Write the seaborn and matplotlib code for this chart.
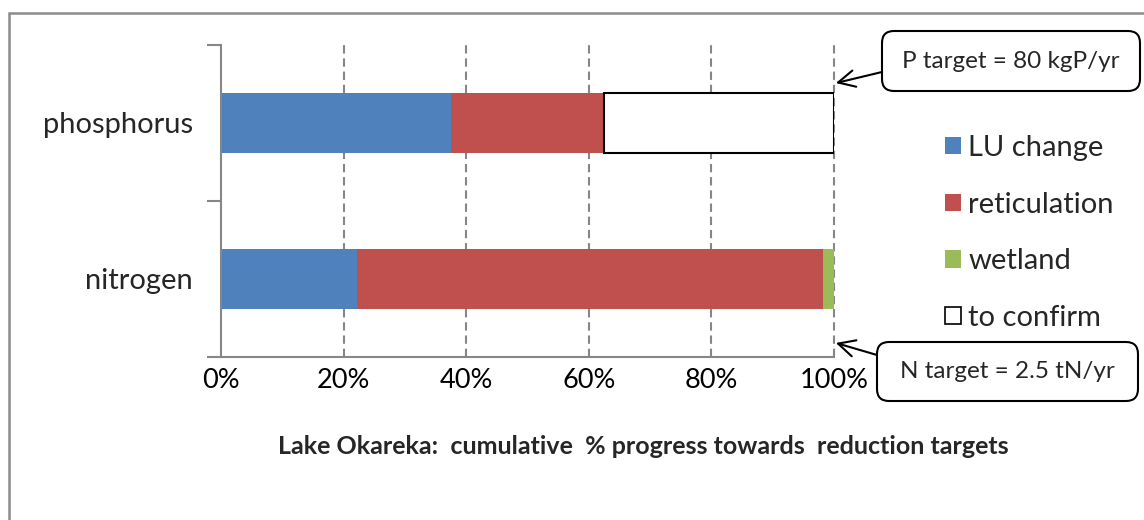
import numpy as np
import pandas as pd
import matplotlib
matplotlib.use("Agg")
import matplotlib.pyplot as plt
import matplotlib.patches as mpatches
import matplotlib.transforms as mtransforms
import seaborn as sns

# ---- data ----
categories = ["phosphorus", "nitrogen"]
lu_change = [37.5, 22.2]
reticulation = [25.0, 76.0]
wetland = [0.0, 1.8]
to_confirm = [37.5, 0.0]
series_names = ["LU change", "reticulation", "wetland", "to confirm"]
x_ticks = [0, 20, 40, 60, 80, 100]
x_ticklabels = ["0%", "20%", "40%", "60%", "80%", "100%"]
title = "Lake Okareka:  cumulative  % progress towards  reduction targets"
p_note = "P target = 80 kgP/yr"
n_note = "N target = 2.5 tN/yr"

colors = {"LU change": "#4F81BD", "reticulation": "#C0504D", "wetland": "#9BBB59"}
grey = "#868686"

sns.set_style("white")
plt.rcParams["font.family"] = ["Lato", "DejaVu Sans"]
plt.rcParams["lines.scale_dashes"] = False

W, H = 1144, 520
fig = plt.figure(figsize=(W / 100, H / 100), dpi=100)
ax = fig.add_axes([221 / W, 1 - 357 / H, (834 - 221) / W, (357 - 45) / H])

df = pd.DataFrame({"category": categories, "LU change": lu_change,
                   "reticulation": reticulation, "wetland": wetland,
                   "to confirm": to_confirm})
cum = df[["LU change", "reticulation", "wetland"]].cumsum(axis=1)

# grid lines (behind bars)
for v in x_ticks[1:]:
    ax.axvline(v, color=grey, lw=1.5, ls=(0, (6, 3.5)), zorder=0.5, clip_on=False)

# stacked bars by overlaying cumulative totals, largest first
for name in ["wetland", "reticulation", "LU change"]:
    sns.barplot(x=cum[name], y=df["category"], orient="h", color=colors[name],
                width=0.39, linewidth=0, saturation=1, ax=ax, zorder=2)

# "to confirm" outlined segment
pos = np.arange(len(categories))
tc = np.array(to_confirm)
start = cum["wetland"].values
mask = tc > 0
ax.barh(pos[mask], tc[mask], left=start[mask], height=0.39, color="white",
        edgecolor="black", linewidth=1.5, zorder=3)

ax.set_xlim(0, 100)
ax.set_ylim(1.5, -0.5)
ax.set_xlabel("")
ax.set_ylabel("")

ax.set_xticks(x_ticks)
ax.set_xticklabels(x_ticklabels)
ax.tick_params(axis="x", which="major", direction="out", length=6, width=1.5,
               color=grey, labelsize=19.5, pad=2, labelcolor="black")

ax.set_yticks([-0.5, 0.5, 1.5])
ax.set_yticklabels([])
ax.set_yticks([0, 1], minor=True)
ax.set_yticklabels(categories, minor=True)
ax.tick_params(axis="y", which="major", direction="out", length=10, width=1.5,
               color=grey, left=True)
ax.tick_params(axis="y", which="minor", length=0, labelsize=21, pad=20)

for s in ["top", "right"]:
    ax.spines[s].set_visible(False)
for s in ["left", "bottom"]:
    ax.spines[s].set_color(grey)
    ax.spines[s].set_linewidth(1.5)
    ax.spines[s].set_zorder(4)

# title below
fig.text(643 / W, 1 - 446 / H, title, ha="center", va="center",
         fontsize=18, fontweight="bold")

# legend
handles = [mpatches.Patch(facecolor=colors[n], edgecolor="none") for n in series_names[:3]]
handles.append(mpatches.Patch(facecolor="white", edgecolor="black", linewidth=1.2))
fig.legend(handles, series_names, loc="upper left",
           bbox_to_anchor=(945 / W, 1 - 135 / H), frameon=False, fontsize=21,
           handlelength=0.55, handleheight=0.55, handletextpad=0.25,
           labelspacing=1.05, borderpad=0, borderaxespad=0)

# callout boxes
ident = mtransforms.IdentityTransform()
for (x0, y_top, x1, y_bot), txt, tailx, taily, tip in [
        ((882, 31, 1140, 91), p_note, 882, 72, (100.3, -0.256)),
        ((877, 342, 1138, 401), n_note, 877, 355, (100.3, 1.41))]:
    box = mpatches.FancyBboxPatch((x0, H - y_bot), x1 - x0, y_bot - y_top,
                                  boxstyle="round,pad=0,rounding_size=12",
                                  transform=ident, facecolor="white",
                                  edgecolor="black", linewidth=1.5)
    fig.add_artist(box)
    fig.text((x0 + x1) / 2 / W, 1 - (y_top + y_bot) / 2 / H, txt,
             ha="center", va="center", fontsize=17.5)
    ax.annotate("", xy=tip, xycoords="data", xytext=(tailx, H - taily),
                textcoords="figure pixels", annotation_clip=False,
                arrowprops=dict(arrowstyle="->,head_length=1.2,head_width=0.6",
                                lw=1.5, color="black", shrinkA=0, shrinkB=0))

# outer frame (partially cropped)
frame = mpatches.Rectangle((8.7, -20), 1300, H - 12.8 + 20, transform=ident,
                           facecolor="none", edgecolor="#8c8c8c", linewidth=1.8)
fig.add_artist(frame)

fig.savefig("out.png", dpi=100)
